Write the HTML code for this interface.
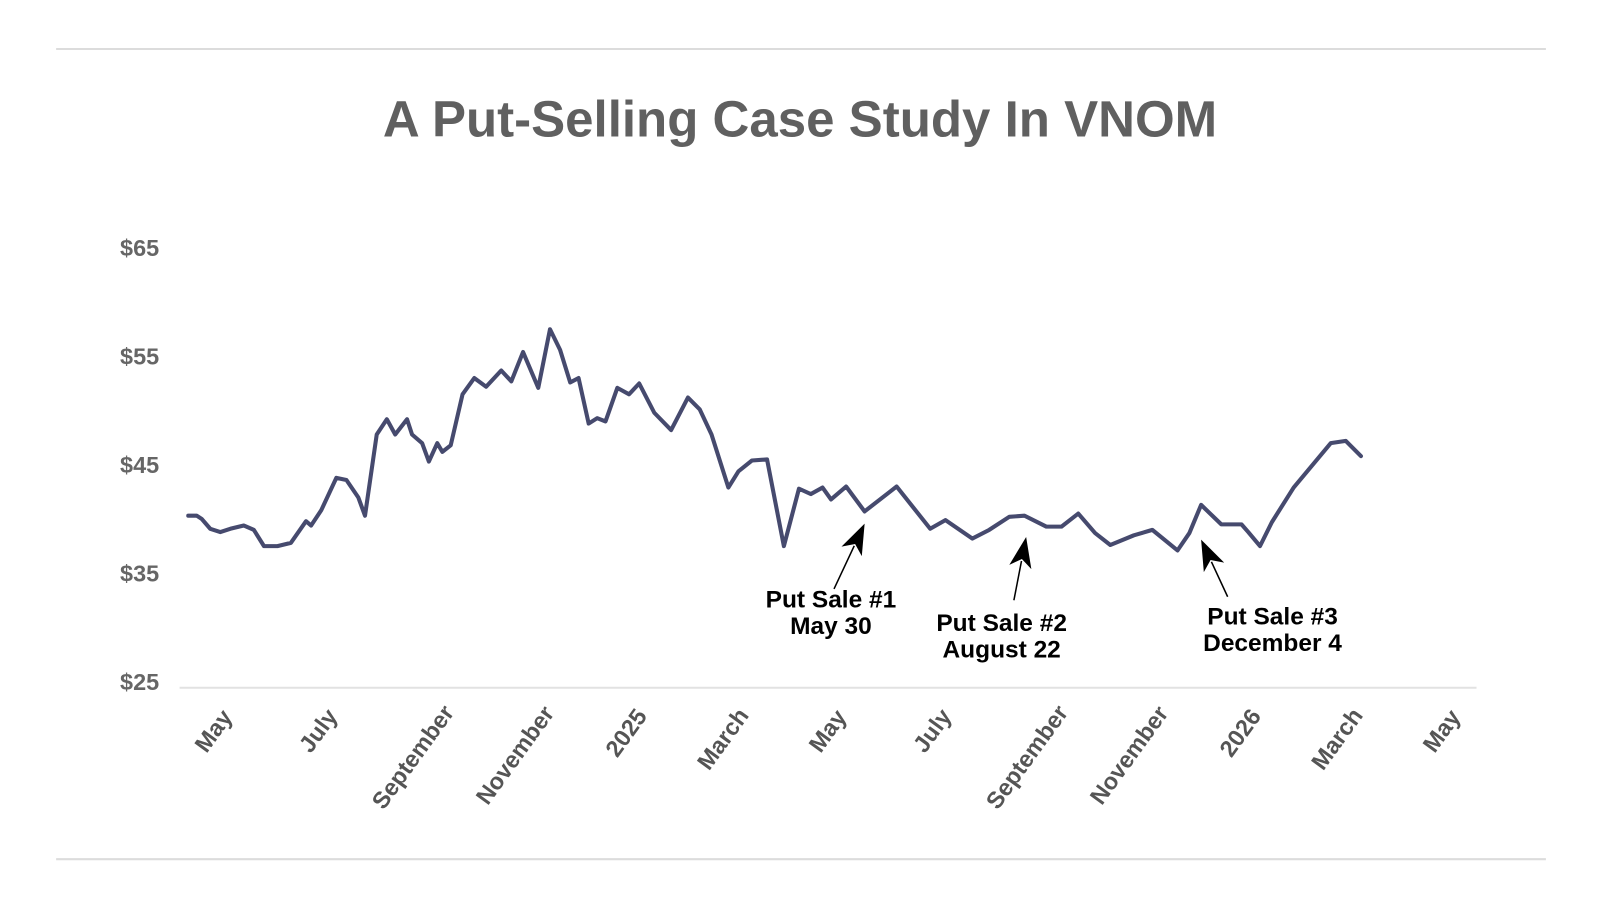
<!DOCTYPE html>
<html><head><meta charset="utf-8"><style>
html,body{margin:0;padding:0;background:#fff;}
body{width:1600px;height:900px;overflow:hidden;font-family:"Liberation Sans",sans-serif;}
</style></head><body>
<svg id="chart" width="1600" height="900" xmlns="http://www.w3.org/2000/svg">
<g transform="scale(1.0204)">
<line x1="55" y1="48" x2="1515" y2="48" stroke="#dcdcdc" stroke-width="2"/>
<line x1="55" y1="842" x2="1515" y2="842" stroke="#dcdcdc" stroke-width="2"/>
<text x="784" y="134" text-anchor="middle" font-family="Liberation Sans, sans-serif" font-weight="bold" font-size="50" fill="#606060">A Put-Selling Case Study In VNOM</text>
<line x1="176" y1="674" x2="1447" y2="674" stroke="#e2e2e2" stroke-width="2"/>
<g id="yticks"></g><g id="xticks"></g><g id="series"></g><g id="notes"></g>
</g>
</svg>
<script>
const yTicks = [25, 35, 45, 55, 65];
const yTickLabels = ["$25", "$35", "$45", "$55", "$65"];
const xTickDays = [-245, -184, -122, -61, 0, 59, 120, 181, 243, 304, 365, 424, 485];
const xTickLabels = ["May","July","September","November","2025","March","May","July","September","November","2026","March","May"];
const days = [-272,-267,-264,-259,-253,-247,-239,-233,-227,-219,-211,-202,-199,-193,-184,-178,-171,-167,-160,-154,-149,-142,-139,-133,-129,-124,-121,-116,-109,-102,-95,-86,-80,-73,-64,-57,-51,-45,-40,-34,-29,-24,-17,-10,-4,5,15,25,32,39,49,55,63,72,82,91,98,105,110,119,130,149,169,178,194,204,216,225,238,247,257,267,276,290,301,316,323,330,342,354,358,365,372,385,407,416,425];
const prices = [40.3,40.3,40.0,39.1,38.8,39.1,39.4,39.0,37.5,37.5,37.8,39.8,39.4,40.8,43.8,43.6,42.0,40.3,47.8,49.2,47.8,49.2,47.8,47.0,45.3,47.0,46.2,46.8,51.5,53.0,52.2,53.7,52.7,55.4,52.1,57.5,55.6,52.6,53.0,48.8,49.3,49.0,52.1,51.5,52.5,49.8,48.2,51.2,50.1,47.8,42.9,44.4,45.4,45.5,37.5,42.8,42.3,42.9,41.8,43.0,40.7,43.0,39.1,39.9,38.2,39.0,40.2,40.3,39.3,39.3,40.5,38.7,37.6,38.5,39.0,37.1,38.7,41.3,39.5,39.5,38.8,37.5,39.7,42.9,47.0,47.2,45.8];
const noteDays = [130, 226, 330];
const noteTitles = ["Put Sale #1","Put Sale #2","Put Sale #3"];
const noteDates = ["May 30","August 22","December 4"];

const NS="http://www.w3.org/2000/svg";
function xs(d){return 633 + d*1.6488;}
function ys(v){return 668 - (v-25)*10.625;}
function mk(tag,attrs,parent,txt){const e=document.createElementNS(NS,tag);for(const k in attrs)e.setAttribute(k,attrs[k]);if(txt!==undefined)e.textContent=txt;parent.appendChild(e);return e;}

const yg=document.getElementById('yticks');
yTicks.forEach((v,i)=>{
  const t=mk('text',{x:156,y:ys(v)+8,'text-anchor':'end','font-size':23,'font-weight':'bold',fill:'#666','font-family':'Liberation Sans, sans-serif'},yg,yTickLabels[i]);
  
  
});
const xg=document.getElementById('xticks');
xTickDays.forEach((d,i)=>{
  const shift=(xTickLabels[i].length-4)*2.4;
  const x=xs(d)+2+shift, y=702-shift*0.3;
  const t=mk('text',{x:x,y:y,'text-anchor':'end','font-size':23,'font-weight':'bold',fill:'#555','font-family':'Liberation Sans, sans-serif',transform:`rotate(-54 ${x} ${y})`},xg,xTickLabels[i]);
  
  
});
const sg=document.getElementById('series');
const pts=days.map((d,i)=>xs(d).toFixed(1)+','+ys(prices[i]).toFixed(1)).join(' ');
const pl=mk('polyline',{points:pts,fill:'none',stroke:'#464a6e','stroke-width':4,'stroke-linejoin':'round','stroke-linecap':'round'},sg);



const ng=document.getElementById('notes');
const tipDy=[0,8,22];
const tailDx=[-30,-12,26], tailDy=[64,62,56], txtDx=[-33,-24,70], txtDy=[82,92,83];
noteDays.forEach((d,i)=>{
  let v=prices[0];
  for(let k=0;k<days.length-1;k++){if(d>=days[k]&&d<=days[k+1]){const f=(d-days[k])/(days[k+1]-days[k]);v=prices[k]+f*(prices[k+1]-prices[k]);}}
  const tx=xs(d), ty=ys(v)+12+tipDy[i];
  const sx=tx+tailDx[i], sy=ty+tailDy[i];
  const ang=Math.atan2(ty-sy,tx-sx), L=30, W=11;
  const bx=tx-L*Math.cos(ang), by=ty-L*Math.sin(ang);
  const px=-Math.sin(ang), py=Math.cos(ang);
  const g=mk('g',{},ng);
  
  
  mk('line',{x1:sx,y1:sy,x2:bx+6*Math.cos(ang),y2:by+6*Math.sin(ang),stroke:'#000','stroke-width':1.5},g);
  mk('polygon',{points:`${tx},${ty} ${bx+W*px},${by+W*py} ${bx+8*Math.cos(ang)},${by+8*Math.sin(ang)} ${bx-W*px},${by-W*py}`,fill:'#000'},g);
  const cx=tx+txtDx[i], cy=ty+txtDy[i];
  mk('text',{x:cx,y:cy,'text-anchor':'middle','font-size':24,'font-weight':'bold',fill:'#000','font-family':'Liberation Sans, sans-serif'},g,noteTitles[i]);
  mk('text',{x:cx,y:cy+26,'text-anchor':'middle','font-size':24,'font-weight':'bold',fill:'#000','font-family':'Liberation Sans, sans-serif'},g,noteDates[i]);
});
</script>
</body></html>
